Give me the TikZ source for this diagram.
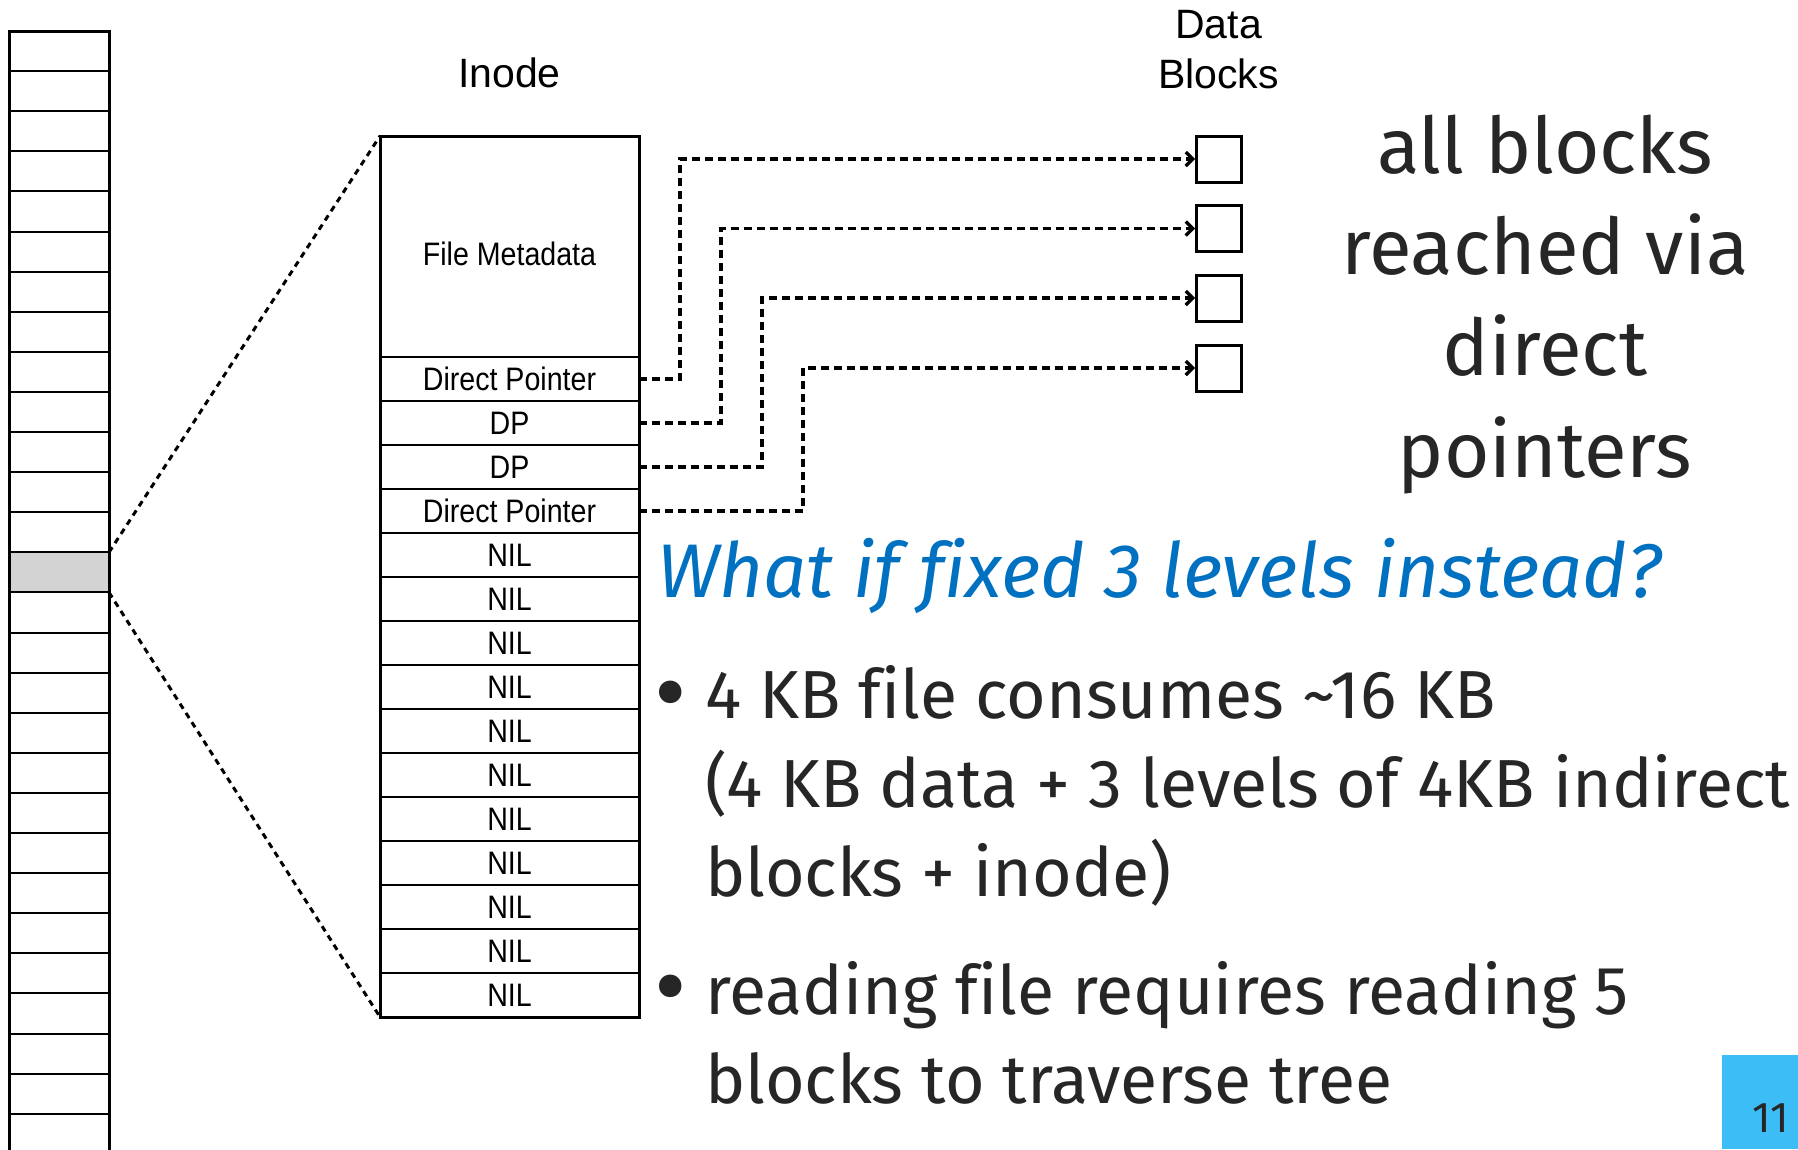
\documentclass[tikz,border=0pt]{standalone}
\usepackage{fontspec}
\setmainfont{Liberation Sans}
\newfontfamily\condfont[FakeStretch=0.88]{Liberation Sans}
\newfontfamily\slidefont[Ligatures=NoCommon]{Fira Sans}
\usetikzlibrary{arrows.meta}
\definecolor{ink}{HTML}{262626}
\definecolor{qblue}{HTML}{0070C0}
\definecolor{pagebox}{HTML}{3DBDF5}
\definecolor{cellgray}{HTML}{D3D3D3}
\tikzset{
  every node/.style={inner sep=0pt, outer sep=0pt},
  slot/.style={draw, line width=2pt, minimum width=259pt, minimum height=44pt,
    anchor=north west, text height=23pt, text depth=0pt,
    font=\condfont\fontsize{32.5}{38}\selectfont},
  datablock/.style={draw, line width=3pt, minimum width=45pt, minimum height=46pt},
  ptr/.style={line width=3.2pt, dash pattern=on 8pt off 5pt,
    -{Straight Barb[length=7pt,width=14pt]}, shorten >=1pt},
  zoomline/.style={line width=3pt, dash pattern=on 6pt off 5pt},
  heading/.style={font=\fontsize{41}{50}\selectfont, anchor=base},
  bigtext/.style={font=\slidefont\fontsize{78}{100}\selectfont, text=ink, anchor=base},
  bullettext/.style={font=\slidefont\fontsize{68}{88}\selectfont, text=ink, anchor=base west},
  bulletmark/.style={font=\slidefont\fontsize{100}{100}\selectfont, text=ink, anchor=base},
}
\begin{document}
\begin{tikzpicture}[x=1pt,y=-1pt]
\useasboundingbox (0,0) rectangle (1798,1149);

% disk: column of blocks, one of them holding the inode
\node[fill=cellgray, minimum width=100pt, minimum height=40.1pt, anchor=north west]
  (sel) at (9,{31+40.1*13}) {};
\foreach \i in {1,...,28}
  \draw[line width=2pt] (9,{31+40.1*\i}) -- (109,{31+40.1*\i});
\draw[line width=3pt] (9,1160) -- (9,31) -- (109,31) -- (109,1160);

% inode
\node[slot, minimum height=221pt, text height=38.4pt] (meta) at (380,136) {File Metadata};
\foreach \t [count=\i] in {Direct Pointer,DP,DP,Direct Pointer,NIL,NIL,NIL,NIL,NIL,NIL,NIL,NIL,NIL,NIL,NIL}
  \node[slot] (r\i) at (380,{357+44*(\i-1)}) {\t};
\draw[line width=3pt] (meta.north west) rectangle (r15.south east);

% zoom lines from the disk block to the inode
\draw[zoomline] (sel.north east) -- (meta.north west);
\draw[zoomline] (sel.south east) -- (r15.south west);

% labels
\node[heading] (inodelbl) at (509.5,87) {Inode};
\node[heading] (datalbl) at (1218.5,38) {Data};
\node[heading] (blockslbl) at (1218.5,88) {Blocks};

% data blocks
\node[datablock] (d1) at (1218.5,159) {};
\node[datablock] (d2) at (1218.5,228.5) {};
\node[datablock] (d3) at (1218.5,298) {};
\node[datablock] (d4) at (1218.5,368) {};

% direct pointers
\draw[ptr] (r1.east) -- ++(41,0) |- (d1.west);
\draw[ptr] (r2.east) -- ++(82,0) |- (d2.west);
\draw[ptr] (r3.east) -- ++(123,0) |- (d3.west);
\draw[ptr] (r4.east) -- ++(164,0) |- (d4.west);

% remark on the right
\node[bigtext] (t1) at (1545,173) {all blocks};
\node[bigtext] (t2) at (1545,274.3) {reached via};
\node[bigtext] (t3) at (1545,375.6) {direct};
\node[bigtext] (t4) at (1545,477) {pointers};

% question and bullets
\node[font=\slidefont\itshape\fontsize{76}{100}\selectfont, text=qblue, anchor=base west]
  (question) at (657,597) {What if fixed 3 levels instead?};
\node[bulletmark] (b1) at (670.5,726) {•};
\node[bullettext] (l1) at (705,718) {4 KB file consumes \textasciitilde16 KB};
\node[bullettext] (l2) at (705,807) {(4 KB data + 3 levels of 4KB indirect};
\node[bullettext] (l3) at (705,896) {blocks + inode)};
\node[bulletmark] (b2) at (670.5,1020) {•};
\node[bullettext] (l4) at (705,1014) {reading file requires reading 5};
\node[bullettext] (l5) at (705,1103) {blocks to traverse tree};

% page number
\node[fill=pagebox, minimum width=76pt, minimum height=94pt, anchor=north west] (pg) at (1722,1055) {};
\node[font=\slidefont\fontsize{43}{48}\selectfont, text=ink, anchor=base east] (pgnum) at (1789,1132) {11};
\end{tikzpicture}
\end{document}
